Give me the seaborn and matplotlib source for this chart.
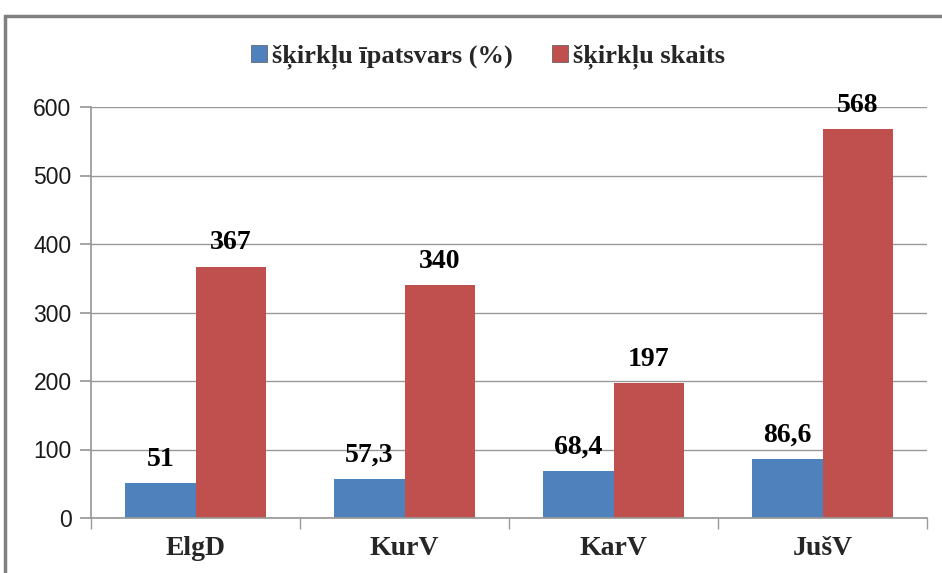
import matplotlib
matplotlib.use("Agg")
import matplotlib.pyplot as plt
import matplotlib.patches as mpatches
import seaborn as sns
import pandas as pd

categories = ["ElgD", "KurV", "KarV", "JušV"]
share_pct = [51, 57.3, 68.4, 86.6]
entry_count = [367, 340, 197, 568]
series_names = ["šķirkļu īpatsvars (%)", "šķirkļu skaits"]
share_labels = ["51", "57,3", "68,4", "86,6"]
count_labels = ["367", "340", "197", "568"]
y_ticks = [0, 100, 200, 300, 400, 500, 600]

df = pd.DataFrame({
    "cat": categories * 2,
    "val": share_pct + entry_count,
    "series": [series_names[0]] * 4 + [series_names[1]] * 4,
})

sns.set_theme(style="white")
fig = plt.figure(figsize=(9.42, 5.73), dpi=100)
ax = fig.add_axes([91 / 942, 1 - 518 / 573, (927 - 91) / 942, (518 - 107) / 573])

palette = {series_names[0]: "#4F81BD", series_names[1]: "#C0504D"}
sns.barplot(data=df, x="cat", y="val", hue="series", palette=palette,
            width=0.67, saturation=1, ax=ax, edgecolor="none", legend=False)

ax.set_ylim(0, 600)
ax.set_xlim(-0.5, 3.5)
ax.set_yticks(y_ticks)
ax.yaxis.grid(True, color="#999999", linewidth=1)
ax.set_axisbelow(True)
for side in ["top", "right"]:
    ax.spines[side].set_visible(False)
ax.spines["left"].set_color("#999999")
ax.spines["bottom"].set_color("#999999")
ax.set_xlabel("")
ax.set_ylabel("")

ax.tick_params(axis="y", which="both", left=True, length=8, color="#999999",
               labelsize=16.5, pad=6)
ax.set_yticklabels([str(t) for t in y_ticks], fontfamily="Liberation Sans",
                   color="#1a1a1a")
ax.set_xticks([0, 1, 2, 3])
ax.set_xticklabels(categories, fontfamily="Liberation Serif", fontweight="bold",
                   fontsize=20)
ax.tick_params(axis="x", length=0, pad=13)
# minor ticks on the category boundaries
ax.set_xticks([-0.5, 0.5, 1.5, 2.5, 3.5], minor=True)
ax.tick_params(axis="x", which="minor", bottom=True, length=8, color="#999999")

label_sets = [share_labels, count_labels]
for container, labels in zip(ax.containers, label_sets):
    ax.bar_label(container, labels=labels, padding=8, fontsize=20,
                 fontweight="bold", fontfamily="Liberation Serif", color="black")

handles = [mpatches.Patch(facecolor=palette[n], edgecolor="#555555", linewidth=0.5, label=n)
           for n in series_names]
fig.legend(handles=handles, loc="center", bbox_to_anchor=(0.518, 1 - 57 / 573),
           ncol=2, frameon=False, handlelength=0.6, handleheight=0.6,
           handletextpad=0.2, columnspacing=1.5,
           prop={"family": "Liberation Serif", "weight": "bold", "size": 19})

# outer chart frame
fig.patches.append(mpatches.Rectangle((5 / 942, -0.1), 1.2, 1 - 16 / 573 + 0.1,
                                      transform=fig.transFigure, fill=False,
                                      edgecolor="#808080", linewidth=2.5))

fig.savefig("out.png", dpi=100, facecolor="white")
